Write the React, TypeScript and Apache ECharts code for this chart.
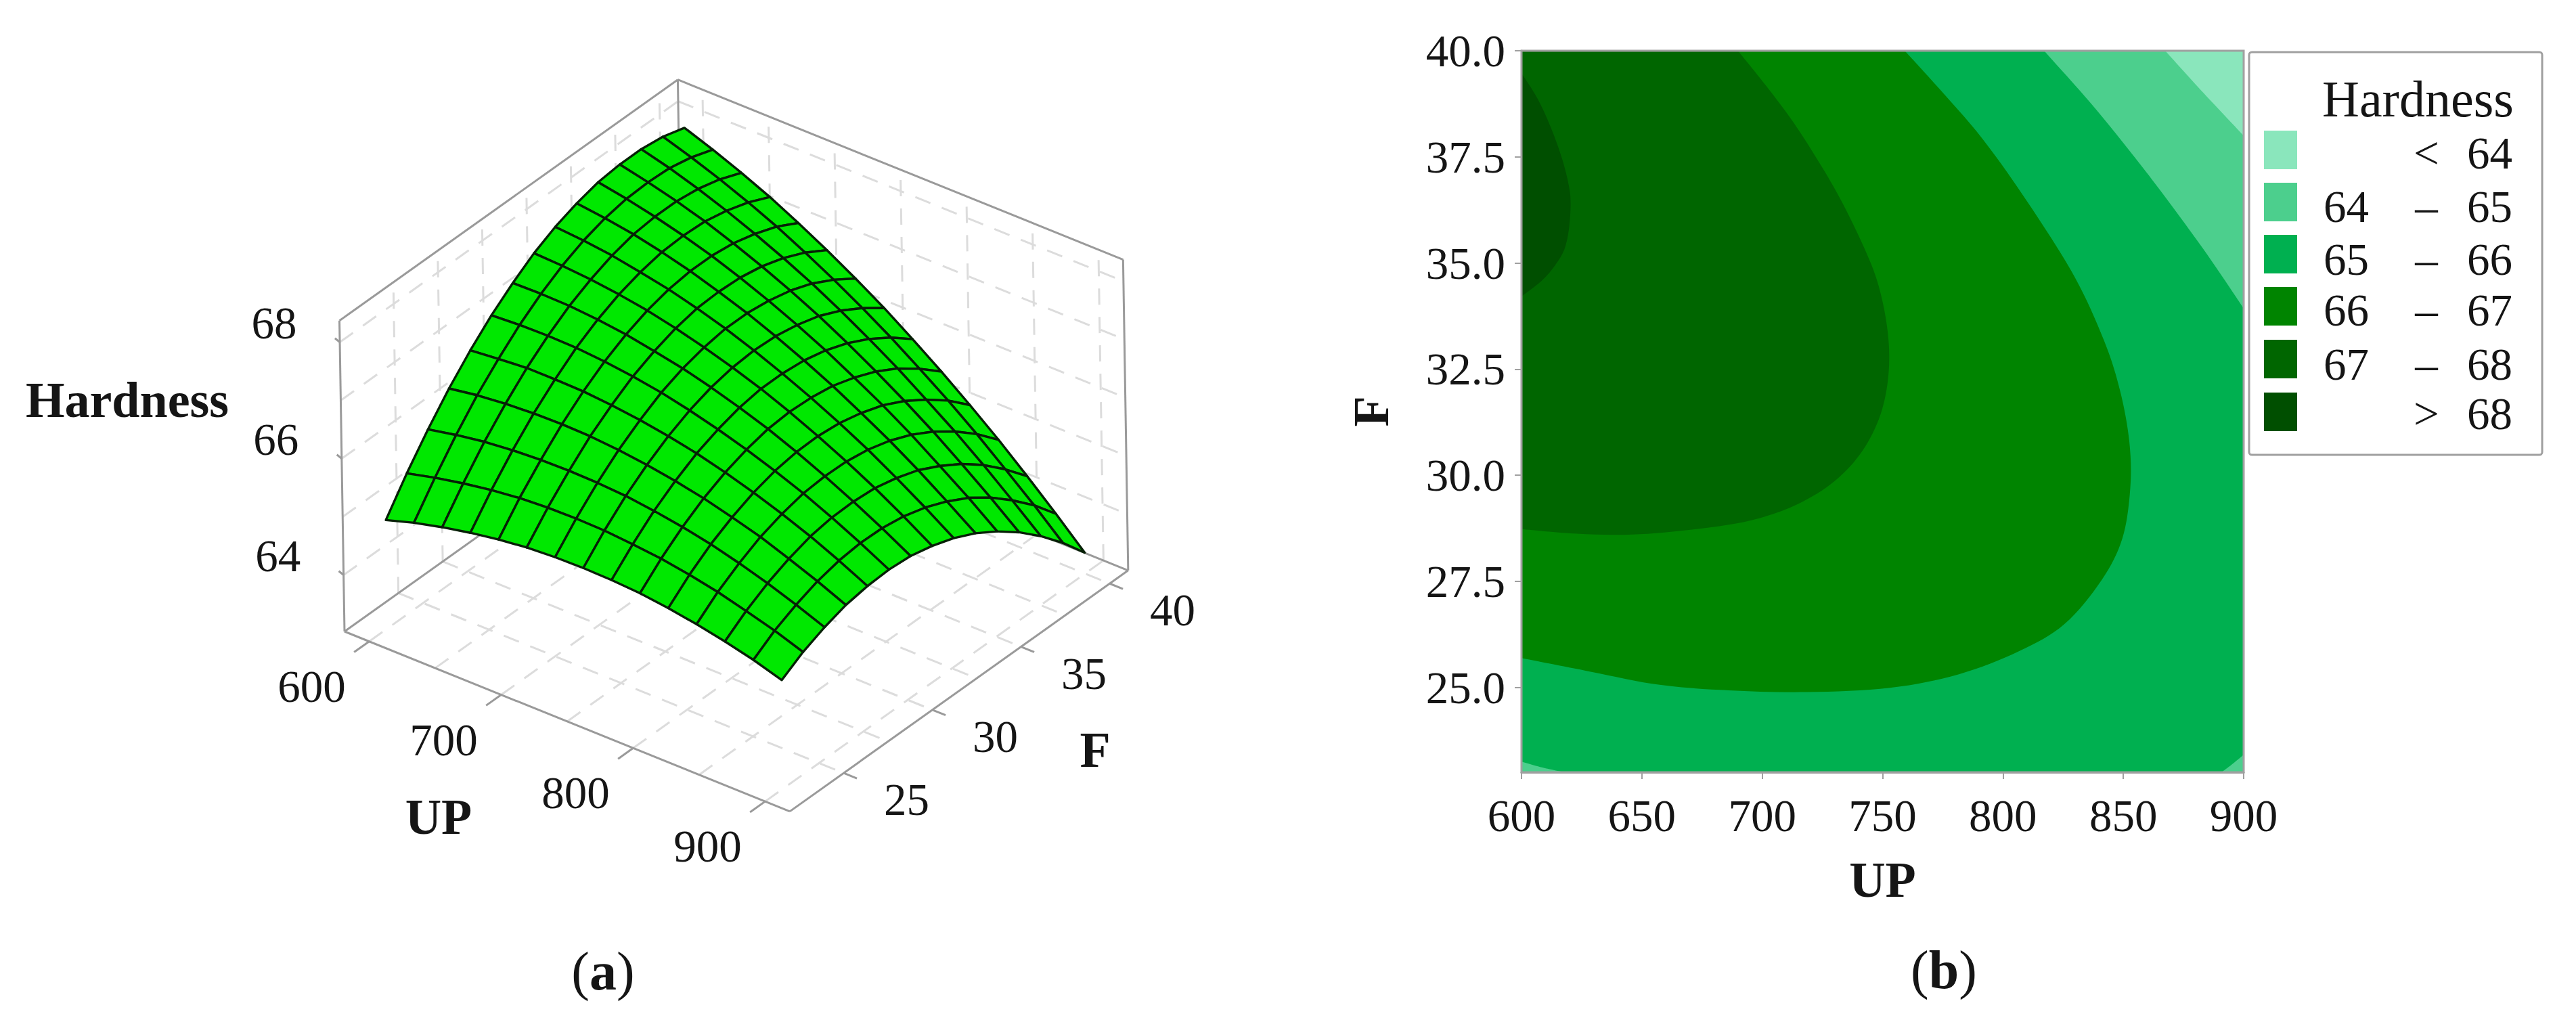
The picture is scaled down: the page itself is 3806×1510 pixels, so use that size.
import React, { useEffect, useRef } from "react";
import * as echarts from "echarts";

const FONT = '"Liberation Serif"';

// ---- Left panel: response surface, hardness read at each mesh node ----
const upNodes = [600, 621.4, 642.9, 664.3, 685.7, 707.1, 728.6, 750, 771.4, 792.9, 814.3, 835.7, 857.1, 878.6, 900];
const fNodes = [23, 24.21, 25.43, 26.64, 27.86, 29.07, 30.29, 31.5, 32.71, 33.93, 35.14, 36.36, 37.57, 38.79, 40];
const hardness = [
  [64.89, 65.43, 65.92, 66.36, 66.75, 67.09, 67.38, 67.63, 67.82, 67.96, 68.06, 68.1, 68.1, 68.05, 67.94],
  [65.04, 65.55, 66.02, 66.44, 66.8, 67.12, 67.39, 67.61, 67.78, 67.9, 67.97, 67.99, 67.97, 67.89, 67.76],
  [65.16, 65.65, 66.1, 66.49, 66.84, 67.13, 67.38, 67.57, 67.72, 67.82, 67.86, 67.86, 67.81, 67.71, 67.56],
  [65.26, 65.73, 66.15, 66.52, 66.84, 67.12, 67.34, 67.51, 67.63, 67.71, 67.73, 67.71, 67.63, 67.51, 67.34],
  [65.34, 65.79, 66.18, 66.53, 66.83, 67.08, 67.28, 67.43, 67.53, 67.58, 67.58, 67.53, 67.43, 67.29, 67.09],
  [65.4, 65.82, 66.19, 66.52, 66.79, 67.02, 67.19, 67.32, 67.4, 67.42, 67.4, 67.33, 67.21, 67.04, 66.82],
  [65.43, 65.83, 66.18, 66.48, 66.73, 66.94, 67.09, 67.19, 67.25, 67.25, 67.2, 67.11, 66.97, 66.77, 66.53],
  [65.44, 65.82, 66.15, 66.42, 66.65, 66.83, 66.96, 67.04, 67.07, 67.05, 66.98, 66.87, 66.7, 66.48, 66.22],
  [65.43, 65.78, 66.09, 66.34, 66.55, 66.7, 66.81, 66.87, 66.87, 66.83, 66.74, 66.6, 66.41, 66.17, 65.88],
  [65.4, 65.73, 66.01, 66.24, 66.42, 66.55, 66.64, 66.67, 66.65, 66.59, 66.47, 66.31, 66.1, 65.83, 65.52],
  [65.34, 65.65, 65.91, 66.11, 66.27, 66.38, 66.44, 66.45, 66.41, 66.32, 66.19, 66.0, 65.76, 65.48, 65.14],
  [65.26, 65.55, 65.78, 65.97, 66.1, 66.19, 66.22, 66.21, 66.15, 66.04, 65.88, 65.67, 65.41, 65.1, 64.74],
  [65.16, 65.42, 65.63, 65.79, 65.91, 65.97, 65.98, 65.95, 65.86, 65.73, 65.54, 65.31, 65.03, 64.69, 64.31],
  [65.04, 65.28, 65.46, 65.6, 65.69, 65.73, 65.72, 65.66, 65.55, 65.39, 65.19, 64.93, 64.62, 64.27, 63.86],
  [64.89, 65.11, 65.27, 65.39, 65.45, 65.47, 65.44, 65.35, 65.22, 65.04, 64.81, 64.53, 64.2, 63.82, 63.39],
];

// Box limits of the 3D axes and its gridlines / labelled ticks
const UP0 = 581.3, UP1 = 918.7, F0 = 21.96, F1 = 41.04, Z0 = 63.03, Z1 = 68.37;
const upGrid3d = [600, 650, 700, 750, 800, 850, 900];
const fGrid3d = [25, 27.5, 30, 32.5, 35, 37.5, 40];
const zGrid3d = [64, 65, 66, 67, 68];
const upTicks3d = [600, 700, 800, 900];
const fTicks3d = [25, 30, 35, 40];
const zTicks3d = [64, 66, 68];

// ---- Right panel: contour boundaries as [UP, F] points ----
const fTicks2d = [25, 27.5, 30, 32.5, 35, 37.5, 40];
const contour64Top = [[867.4, 40], [883.1, 39.02], [900, 38.0]];
const contour65Top = [[817.1, 40], [839.1, 38.59], [862, 36.96], [883.1, 35.34], [900, 33.93]];
const contour65Left = [[600, 23.25], [608, 23.12], [618, 23]];
const contour65Right = [[890.8, 23], [895, 23.18], [900, 23.41]];
const contour66 = [[600, 25.69], [628.7, 25.37], [657.4, 25.06], [686.1, 24.93], [718.6, 24.89], [753, 24.99], [781.7, 25.31], [806.6, 25.85], [825.7, 26.5], [841, 27.53], [849.6, 28.51], [852.9, 29.7], [852.5, 30.79], [848.7, 31.98], [842, 33.17], [829.6, 34.69], [810.4, 36.42], [791.3, 37.94], [772.2, 39.19], [759.2, 40]];
const contour67 = [[600, 28.73], [623, 28.62], [645.9, 28.6], [672.7, 28.73], [695.7, 28.94], [714.8, 29.32], [730.1, 29.86], [741.6, 30.57], [749.2, 31.44], [752.5, 32.41], [752.1, 33.39], [748.3, 34.47], [741.6, 35.45], [730.1, 36.75], [714.8, 38.16], [701.4, 39.19], [689.9, 40]];
const contour68 = [[600, 39.47], [606.6, 38.88], [612.2, 38.19], [616.9, 37.45], [619.7, 36.81], [620.4, 36.39], [619.7, 35.8], [617.8, 35.32], [614, 34.95], [608.4, 34.58], [600, 34.21]];

const legendColors = ["#8AE6BC", "#4CCF8D", "#00B050", "#008400", "#006600", "#004F00"];
const legendLow = ["", "64", "65", "66", "67", ""];
const legendSign = ["<", "–", "–", "–", "–", ">"];
const legendHigh = ["64", "65", "66", "67", "68", "68"];

const contourBands = [
  { color: legendColors[2], curve: [] as number[][], corners: [[600, 23], [900, 23], [900, 40], [600, 40]] },
  { color: legendColors[1], curve: contour65Left, corners: [[600, 23]] },
  { color: legendColors[1], curve: contour65Right, corners: [[900, 23]] },
  { color: legendColors[1], curve: contour65Top, corners: [[900, 40]] },
  { color: legendColors[0], curve: contour64Top, corners: [[900, 40]] },
  { color: legendColors[3], curve: contour66, corners: [[600, 40]] },
  { color: legendColors[4], curve: contour67, corners: [[600, 40]] },
  { color: legendColors[5], curve: contour68, corners: [] as number[][] },
];

// Oblique projection of the 3D box on to the page plane
const project = (up: number, f: number, z: number) => [
  509 + 1.95 * (up - UP0) + 26.2 * (f - F0) - 1.4 * (z - Z0),
  933 + 0.788 * (up - UP0) - 18.66 * (f - F0) - 86 * (z - Z0),
];

type P3 = [number, number, number];
const dashedSegs: [P3, P3][] = [];
upGrid3d.forEach((u) => {
  dashedSegs.push([[u, F0, Z0], [u, F1, Z0]]);
  dashedSegs.push([[u, F1, Z0], [u, F1, Z1]]);
});
fGrid3d.forEach((f) => {
  dashedSegs.push([[UP0, f, Z0], [UP1, f, Z0]]);
  dashedSegs.push([[UP0, f, Z0], [UP0, f, Z1]]);
});
zGrid3d.forEach((z) => {
  dashedSegs.push([[UP0, F0, z], [UP0, F1, z]]);
  dashedSegs.push([[UP0, F1, z], [UP1, F1, z]]);
});
const solidSegs: [P3, P3][] = [
  [[UP0, F0, Z0], [UP1, F0, Z0]],
  [[UP1, F0, Z0], [UP1, F1, Z0]],
  [[UP1, F1, Z0], [UP0, F1, Z0]],
  [[UP0, F1, Z0], [UP0, F0, Z0]],
  [[UP0, F0, Z0], [UP0, F0, Z1]],
  [[UP0, F1, Z0], [UP0, F1, Z1]],
  [[UP1, F1, Z0], [UP1, F1, Z1]],
  [[UP0, F0, Z1], [UP0, F1, Z1]],
  [[UP0, F1, Z1], [UP1, F1, Z1]],
];
upTicks3d.forEach((u) => solidSegs.push([[u, F0, Z0], [u, F0 - 0.85, Z0]]));
fTicks3d.forEach((f) => solidSegs.push([[UP1, f, Z0], [UP1 + 10, f, Z0]]));
zTicks3d.forEach((z) => solidSegs.push([[UP0, F0, z], [UP0 - 5, F0 + 0.1, z]]));

const cells: number[][] = [];
for (let i = 0; i < upNodes.length - 1; i++) {
  for (let j = fNodes.length - 2; j >= 0; j--) cells.push([i, j]);
}

const tickTexts3d = [
  ...upTicks3d.map((u) => ({ text: String(u), p: project(u, F0, Z0), dx: -85, dy: 66 })),
  ...fTicks3d.map((f) => ({ text: String(f), p: project(UP1, f, Z0), dx: 93, dy: 39 })),
  ...zTicks3d.map((z) => ({ text: String(z), p: project(UP0, F0, z), dx: -97, dy: -29 })),
];

const curvePath = (pts: number[][]) => {
  let d = `M${pts[0][0]} ${pts[0][1]}`;
  for (let i = 0; i < pts.length - 1; i++) {
    const p0 = pts[Math.max(i - 1, 0)], p1 = pts[i], p2 = pts[i + 1], p3 = pts[Math.min(i + 2, pts.length - 1)];
    d += `C${p1[0] + (p2[0] - p0[0]) / 6} ${p1[1] + (p2[1] - p0[1]) / 6} ${p2[0] - (p3[0] - p1[0]) / 6} ${p2[1] - (p3[1] - p1[1]) / 6} ${p2[0]} ${p2[1]}`;
  }
  return d;
};

const segRender = (segs: [P3, P3][], style: any) => (params: any, api: any) => {
  const [a, b] = segs[params.dataIndex];
  const pa = api.coord(project(a[0], a[1], a[2]));
  const pb = api.coord(project(b[0], b[1], b[2]));
  return { type: "line", shape: { x1: pa[0], y1: pa[1], x2: pb[0], y2: pb[1] }, style: { fill: null, ...style } };
};

const idx = (arr: any[]) => arr.map((_, i) => [i, i]);

export default function App() {
  const ref = useRef<HTMLDivElement>(null);
  useEffect(() => {
    document.body.style.margin = "0";
    const chart = echarts.init(ref.current!, undefined, { renderer: "svg" });
    const textStyle = (size: number, weight = "normal") => ({ fontFamily: FONT, fontSize: size, fontWeight: weight, fill: "#151515" });
    const gtext = (text: string, x: number, y: number, size: number, weight = "normal", align = "center") => ({
      type: "text",
      style: { ...textStyle(size, weight), text, x, y, align, verticalAlign: "middle", textAlign: align, textVerticalAlign: "middle" },
      z: 20,
    });
    const caption = (letter: string, x: number, y: number) => ({
      type: "text",
      z: 20,
      style: {
        text: `{n|(}{b|${letter}}{n|)}`,
        x,
        y,
        align: "center",
        verticalAlign: "middle",
        textAlign: "center",
        textVerticalAlign: "middle",
        rich: {
          n: { fontFamily: FONT, fontSize: 80, fill: "#151515" },
          b: { fontFamily: FONT, fontSize: 80, fontWeight: "bold", fill: "#151515" },
        },
      },
    });
    const legendRowsY = [226, 305, 383, 458, 538, 611];
    const swatchY = [193, 270, 347, 424, 502, 580];

    chart.setOption({
      animation: false,
      backgroundColor: "#ffffff",
      grid: [
        { left: 0, top: 0, width: 3806, height: 1510, show: false },
        { left: 2248, top: 75, width: 1067, height: 1066, show: false },
      ],
      xAxis: [
        { gridIndex: 0, type: "value", min: 0, max: 3806, show: false },
        {
          gridIndex: 1, type: "value", min: 600, max: 900, interval: 50,
          splitLine: { show: false },
          axisLine: { show: true, onZero: false, lineStyle: { color: "#a0a0a0", width: 3 } },
          axisTick: { show: true, length: 10, lineStyle: { color: "#a0a0a0", width: 2 } },
          axisLabel: { margin: 30, color: "#151515", fontFamily: FONT, fontSize: 67, showMinLabel: true, showMaxLabel: true },
          name: "UP", nameLocation: "middle", nameGap: 122,
          nameTextStyle: { fontFamily: FONT, fontSize: 74, fontWeight: "bold", color: "#151515" },
        },
      ],
      yAxis: [
        { gridIndex: 0, type: "value", min: 0, max: 1510, inverse: true, show: false },
        {
          gridIndex: 1, type: "value", min: 23, max: 40,
          splitLine: { show: false },
          axisLine: { show: true, onZero: false, lineStyle: { color: "#a0a0a0", width: 3 } },
          axisTick: { show: true, length: 10, customValues: fTicks2d, lineStyle: { color: "#a0a0a0", width: 2 } },
          axisLabel: { margin: 24, customValues: fTicks2d, color: "#151515", fontFamily: FONT, fontSize: 67, formatter: (v: number) => v.toFixed(1) },
          name: "F", nameLocation: "middle", nameGap: 185,
          nameTextStyle: { fontFamily: FONT, fontSize: 74, fontWeight: "bold", color: "#151515" },
        },
      ],
      graphic: [
        gtext("Hardness", 188, 591, 74, "bold"),
        gtext("UP", 648, 1207, 74, "bold"),
        gtext("F", 1618, 1108, 74, "bold"),
        caption("a", 891, 1435),
        caption("b", 2872, 1433),
        { type: "rect", z: 10, shape: { x: 3323, y: 77, width: 433, height: 595, r: 4 }, style: { fill: "#ffffff", stroke: "#a0a0a0", lineWidth: 3 } },
        gtext("Hardness", 3431, 146, 76, "normal", "left"),
        ...legendColors.map((c, i) => ({ type: "rect", z: 11, shape: { x: 3345, y: swatchY[i], width: 49, height: 57 }, style: { fill: c } })),
        ...legendLow.map((t, i) => gtext(t, 3433, legendRowsY[i], 67, "normal", "left")),
        ...legendSign.map((t, i) => gtext(t, 3585, legendRowsY[i], 67)),
        ...legendHigh.map((t, i) => gtext(t, 3712, legendRowsY[i], 67, "normal", "right")),
      ],
      series: [
        {
          type: "custom", coordinateSystem: "cartesian2d", xAxisIndex: 0, yAxisIndex: 0, silent: true, z: 1,
          data: idx(dashedSegs),
          renderItem: segRender(dashedSegs, { stroke: "#dcdcdc", lineWidth: 3, lineDash: [24, 18] }),
        },
        {
          type: "custom", coordinateSystem: "cartesian2d", xAxisIndex: 0, yAxisIndex: 0, silent: true, z: 2,
          data: idx(solidSegs),
          renderItem: segRender(solidSegs, { stroke: "#9a9a9a", lineWidth: 3 }),
        },
        {
          type: "custom", coordinateSystem: "cartesian2d", xAxisIndex: 0, yAxisIndex: 0, silent: true, z: 3,
          data: cells,
          renderItem: (params: any, api: any) => {
            const [i, j] = cells[params.dataIndex];
            const corner = (a: number, b: number) => api.coord(project(upNodes[a], fNodes[b], hardness[a][b]));
            return {
              type: "polygon",
              shape: { points: [corner(i, j), corner(i + 1, j), corner(i + 1, j + 1), corner(i, j + 1)] },
              style: { fill: "#00E800", stroke: "#062006", lineWidth: 3.4, lineJoin: "round" },
            };
          },
        },
        {
          type: "custom", coordinateSystem: "cartesian2d", xAxisIndex: 0, yAxisIndex: 0, silent: true, z: 4,
          data: idx(tickTexts3d),
          renderItem: (params: any, api: any) => {
            const t = tickTexts3d[params.dataIndex];
            const c = api.coord(t.p);
            return {
              type: "text",
              style: { ...textStyle(67), text: t.text, x: c[0] + t.dx, y: c[1] + t.dy, align: "center", verticalAlign: "middle" },
            };
          },
        },
        {
          type: "custom", coordinateSystem: "cartesian2d", xAxisIndex: 1, yAxisIndex: 1, silent: true, z: 1,
          data: idx(contourBands),
          renderItem: (params: any, api: any) => {
            const band = contourBands[params.dataIndex];
            const curve = band.curve.map((p) => api.coord(p));
            const corners = band.corners.map((p) => api.coord(p));
            let d = curve.length ? curvePath(curve) : `M${corners[0][0]} ${corners[0][1]}`;
            corners.forEach((c, k) => {
              if (curve.length || k > 0) d += `L${c[0]} ${c[1]}`;
            });
            d += "Z";
            return { type: "path", shape: { pathData: d }, style: { fill: band.color } };
          },
        },
        {
          type: "custom", coordinateSystem: "cartesian2d", xAxisIndex: 1, yAxisIndex: 1, silent: true, z: 2,
          data: [[0, 0]],
          renderItem: (_: any, api: any) => {
            const a = api.coord([600, 40]);
            const b = api.coord([900, 23]);
            return { type: "rect", shape: { x: a[0], y: a[1], width: b[0] - a[0], height: b[1] - a[1] }, style: { fill: null, stroke: "#a0a0a0", lineWidth: 3 } };
          },
        },
      ],
    });
    return () => chart.dispose();
  }, []);
  return <div ref={ref} style={{ width: 3806, height: 1510, overflow: "hidden" }} />;
}
